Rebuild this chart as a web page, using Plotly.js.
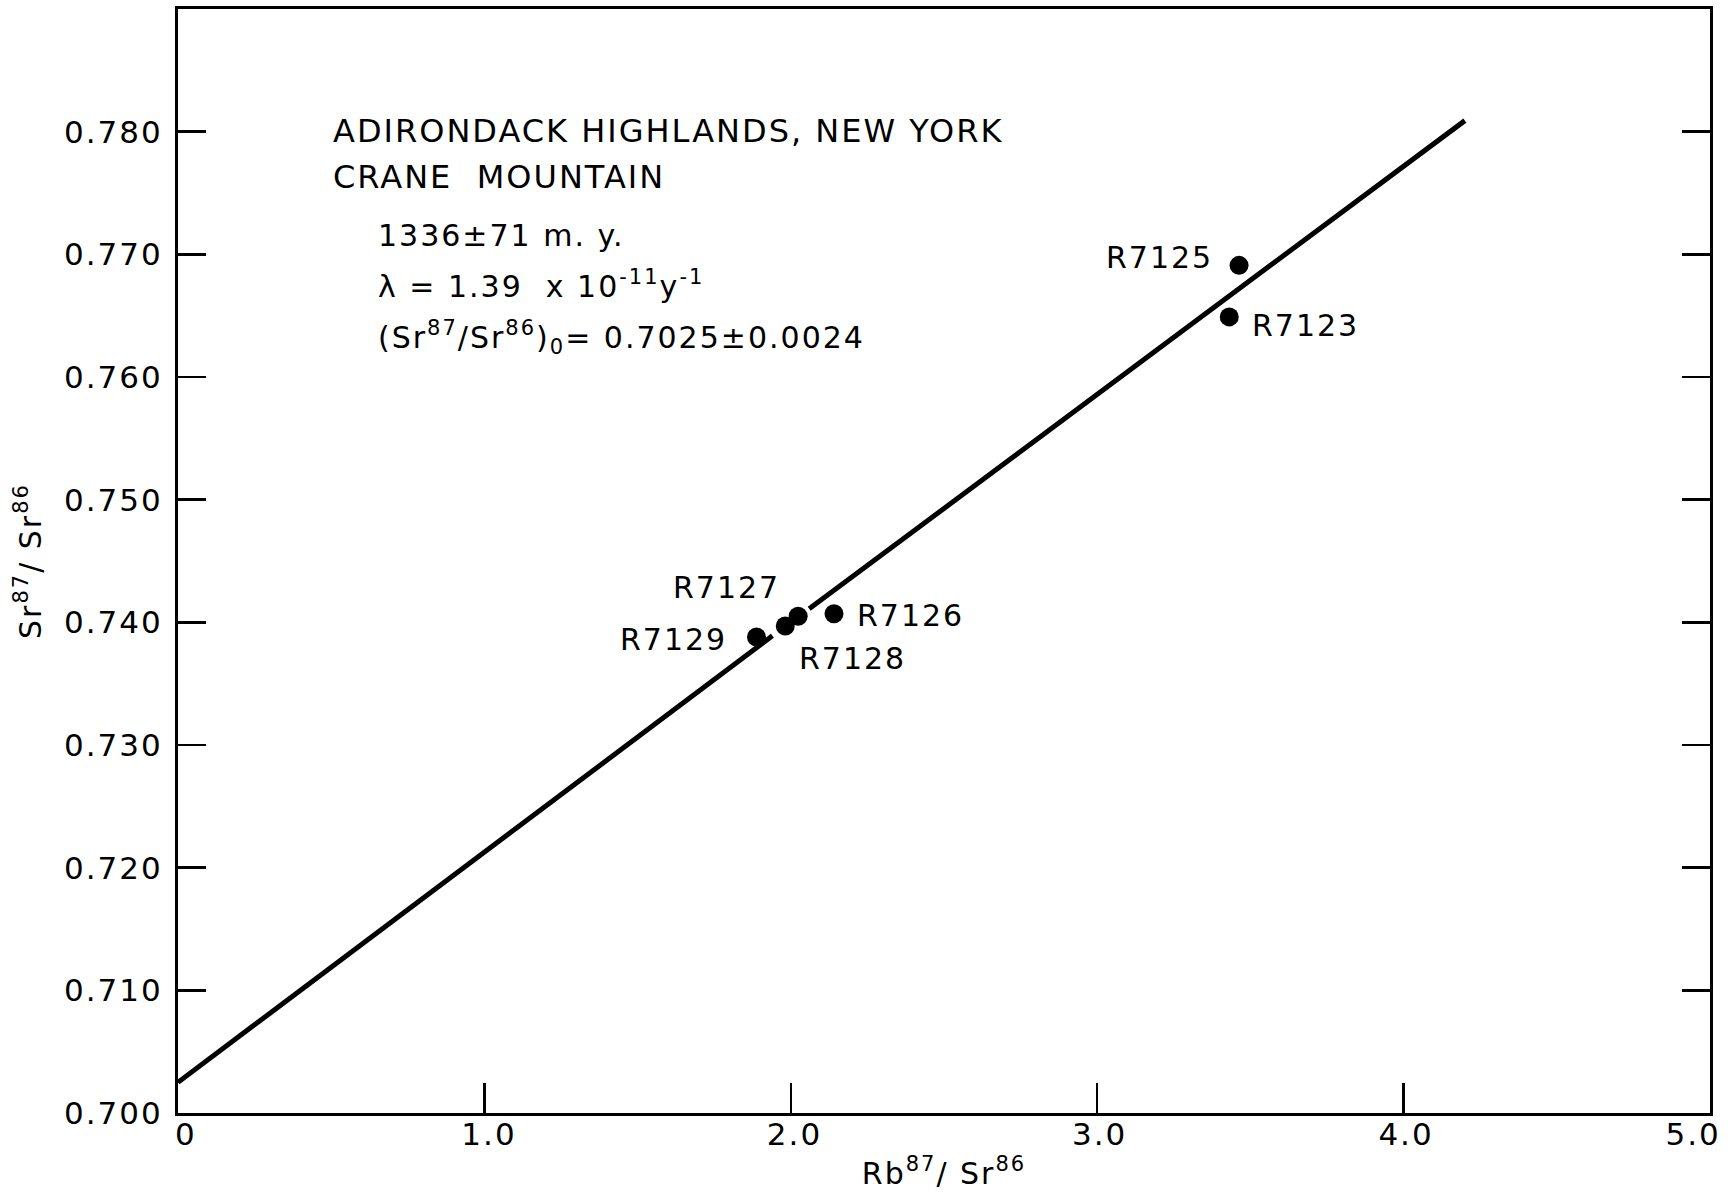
<!DOCTYPE html>
<html>
<head>
<meta charset="utf-8">
<script src="https://cdn.plot.ly/plotly-3.0.1.min.js"></script>
<style>
html, body { margin: 0; padding: 0; background: #fff; }
#chart { width: 1731px; height: 1201px; }
svg text { letter-spacing: 2px; }
</style>
</head>
<body>
<div id="chart"></div>
<script>
// Sample data
const sampleNames = ["R7129", "R7128", "R7127", "R7126", "R7125", "R7123"];
const rbSr = [1.888, 1.982, 2.024, 2.141, 3.463, 3.431];
const srSr = [0.7388, 0.7397, 0.7405, 0.7407, 0.7691, 0.7649];

// Isochron line, drawn in two pieces (interrupted near the cluster of points)
const isoX1 = [0, 1.94];
const isoY1 = [0.7025, 0.7389];
const isoX2 = [2.06, 4.2];
const isoY2 = [0.7411, 0.7809];

// Axis ticks
const xTickVals = [0, 1, 2, 3, 4, 5];
const xTickText = ["0", "1.0", "2.0", "3.0", "4.0", "5.0"];
// where the x tick labels sit (the hand-lettered labels are slightly off their ticks)
const xLabelPos = [0.026, 1.015, 2.012, 3.008, 4.008, 4.945];
const yTickVals = [0.70, 0.71, 0.72, 0.73, 0.74, 0.75, 0.76, 0.77, 0.78];
const yTickText = ["0.700", "0.710", "0.720", "0.730", "0.740", "0.750", "0.760", "0.770", "0.780"];

// Label placement (pixel offsets from each point)
const labelAnchor = ["right", "left", "right", "left", "right", "left"];
const labelDx = [-27, 12, -16, 21, -24, 21];
const labelDy = [-2, -32, 29, -2, 8, -9];

const FONT = "DejaVu Sans, Liberation Sans, sans-serif";

const traces = [
  { x: isoX1, y: isoY1, mode: "lines", line: { color: "#000", width: 5 }, hoverinfo: "skip", showlegend: false },
  { x: isoX2, y: isoY2, mode: "lines", line: { color: "#000", width: 5 }, hoverinfo: "skip", showlegend: false },
  { x: rbSr, y: srSr, text: sampleNames, mode: "markers", marker: { color: "#000", size: 19 }, showlegend: false },
  { x: [], y: [], xaxis: "x2", yaxis: "y", mode: "markers", showlegend: false, hoverinfo: "skip" }
];

const annotations = sampleNames.map((n, i) => ({
  x: rbSr[i], y: srSr[i], xref: "x", yref: "y", text: n, showarrow: false,
  xanchor: labelAnchor[i], yanchor: "middle", xshift: labelDx[i], yshift: labelDy[i],
  font: { family: FONT, size: 30, color: "#000" }
}));

const infoLines = [
  { text: "ADIRONDACK HIGHLANDS, NEW YORK", x: 331, y: 131, size: 32 },
  { text: "CRANE  MOUNTAIN", x: 331, y: 177, size: 32 },
  { text: "1336±71 m. y.", x: 376, y: 235, size: 30 },
  { text: "λ = 1.39  x 10<sup>-11</sup>y<sup>-1</sup>", x: 376, y: 284, size: 30 },
  { text: "(Sr<sup>87</sup>/Sr<sup>86</sup>)<sub>0</sub>= 0.7025±0.0024", x: 376, y: 338, size: 30 }
];
const W = 1731, H = 1201, L = 178, R = 21, T = 9, B = 88;
infoLines.forEach((ln) => {
  annotations.push({
    xref: "paper", yref: "paper",
    x: (ln.x - L) / (W - L - R), y: 1 - (ln.y - T) / (H - T - B),
    text: ln.text, showarrow: false, xanchor: "left", yanchor: "middle", align: "left",
    font: { family: FONT, size: ln.size, color: "#000" }
  });
});

const layout = {
  width: W, height: H,
  margin: { l: L, r: R, t: T, b: B },
  paper_bgcolor: "#fff", plot_bgcolor: "#fff",
  font: { family: FONT, size: 30, color: "#000" },
  xaxis: {
    range: [0, 5], showgrid: false, zeroline: false,
    showline: true, linecolor: "#000", linewidth: 3, mirror: true,
    ticks: "inside", ticklen: 30, tickwidth: 2.5, tickcolor: "#000",
    tickvals: xTickVals, ticktext: xTickText, showticklabels: false,
    title: { text: "Rb<sup>87</sup>/ Sr<sup>86</sup>", font: { family: FONT, size: 30, color: "#000" }, standoff: 48 }
  },
  xaxis2: {
    overlaying: "x", matches: "x", side: "bottom", anchor: "y",
    range: [0, 5], showgrid: false, zeroline: false, showline: false,
    ticks: "", tickvals: xLabelPos, ticktext: xTickText,
    tickfont: { family: FONT, size: 31, color: "#000" },
    ticklabeloverflow: "allow"
  },
  yaxis: {
    range: [0.700, 0.790], showgrid: false, zeroline: false,
    showline: true, linecolor: "#000", linewidth: 3, mirror: "ticks",
    ticks: "inside", ticklen: 28, tickwidth: 2.5, tickcolor: "#000",
    tickvals: yTickVals, ticktext: yTickText,
    tickfont: { family: FONT, size: 31, color: "#000" },
    ticklabelstandoff: 6,
    title: { text: "Sr<sup>87</sup>/ Sr<sup>86</sup>", font: { family: FONT, size: 30, color: "#000" }, standoff: 14 }
  },
  annotations: annotations
};

Plotly.newPlot("chart", traces, layout, { staticPlot: true, displayModeBar: false });
</script>
</body>
</html>
